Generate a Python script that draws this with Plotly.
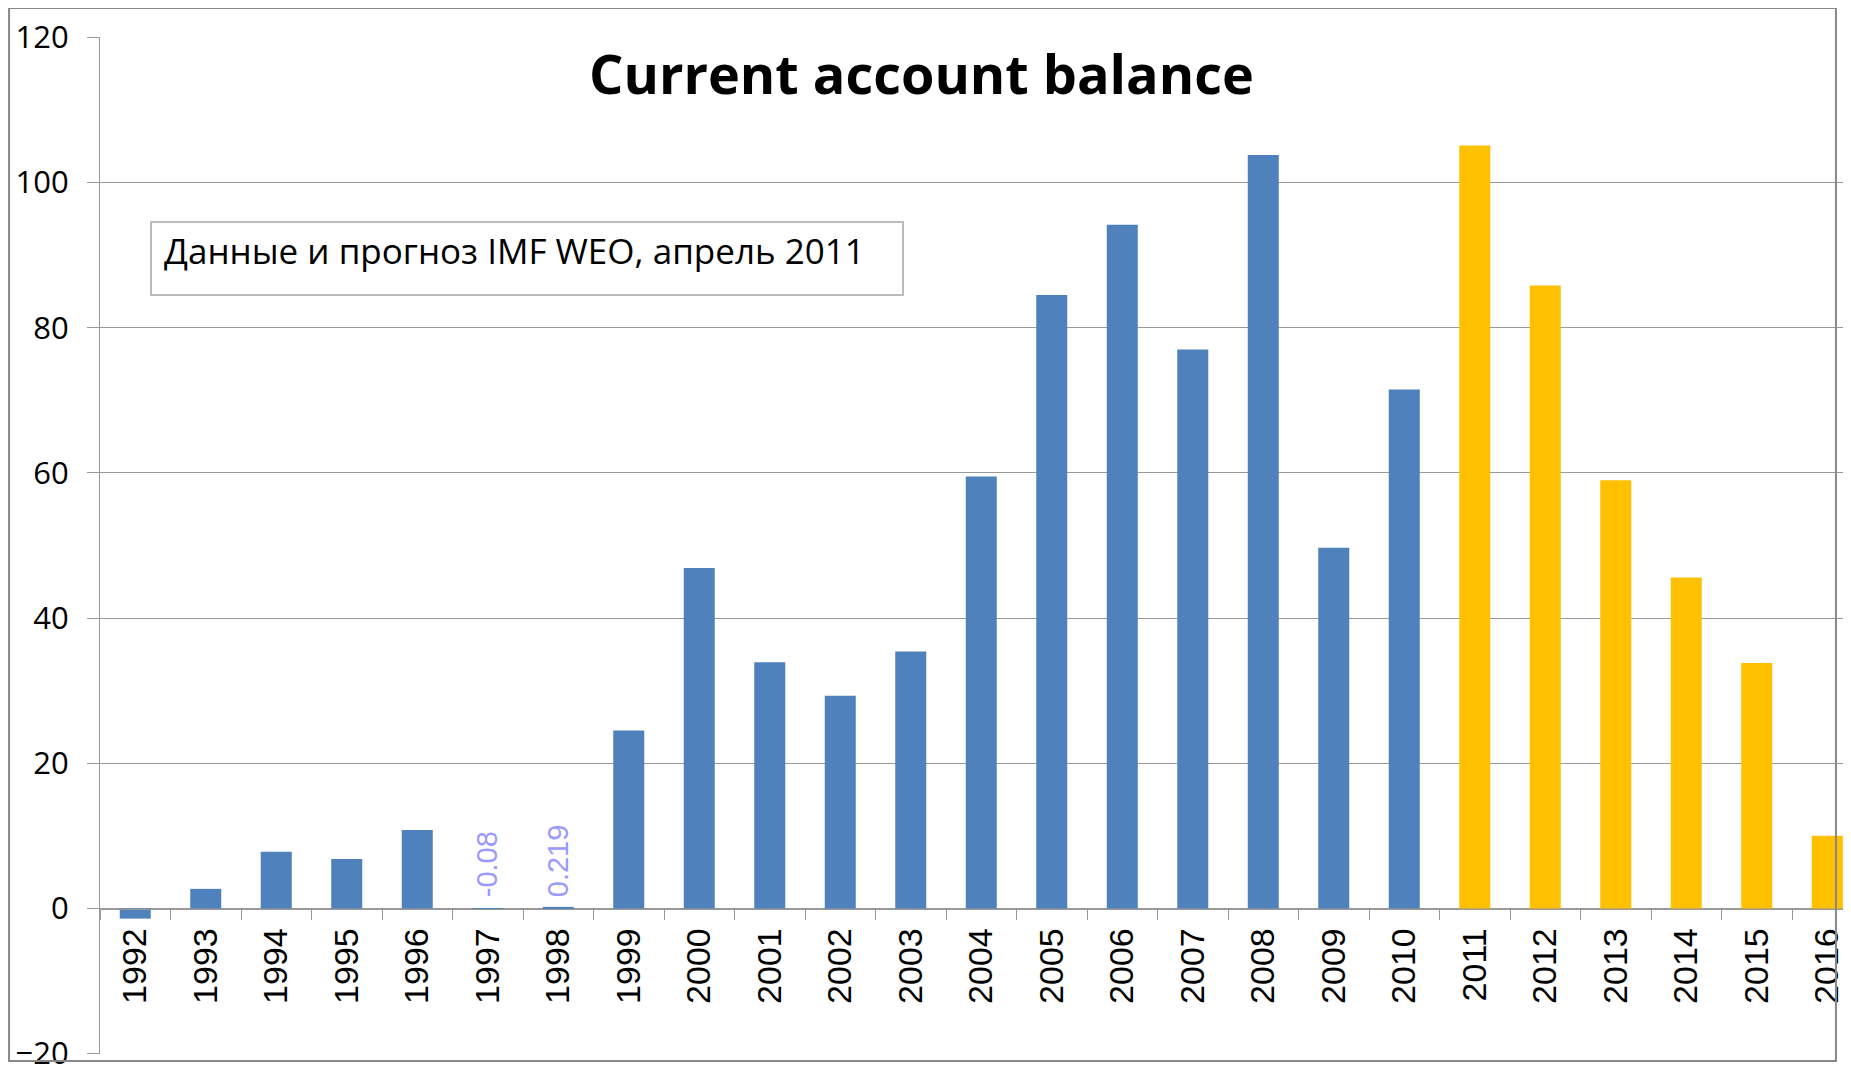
import plotly.graph_objects as go

# data: IMF WEO April 2011, current account balance
years = ["1992", "1993", "1994", "1995", "1996", "1997", "1998", "1999", "2000",
         "2001", "2002", "2003", "2004", "2005", "2006", "2007", "2008", "2009",
         "2010", "2011", "2012", "2013", "2014", "2015", "2016"]
values = [-1.4, 2.7, 7.8, 6.8, 10.8, -0.08, 0.219, 24.5, 46.9,
          33.9, 29.3, 35.4, 59.5, 84.5, 94.2, 77.0, 103.8, 49.7,
          71.5, 105.1, 85.8, 59.0, 45.6, 33.8, 10.0]
first_forecast = "2011"
labelled = {"1997": "-0.08", "1998": "0.219"}

blue = "#4F81BD"
yellow = "#FFC000"
grid = "#999999"

split = years.index(first_forecast)

fig = go.Figure()
fig.add_trace(go.Bar(x=years[:split], y=values[:split], marker_color=blue,
                     marker_line_width=0, width=0.44, showlegend=False))
fig.add_trace(go.Bar(x=years[split:], y=values[split:], marker_color=yellow,
                     marker_line_width=0, width=0.44, showlegend=False))

# rotated data labels above the two tiny bars (category axis -> use index)
for yr, txt in labelled.items():
    fig.add_annotation(x=years.index(yr), y=0, xref="x", yref="y", text=txt,
                       showarrow=False, textangle=-90, yanchor="bottom", yshift=9,
                       font=dict(family="Liberation Sans", size=29, color="#9999FF"))

# title
fig.add_annotation(x=0.4673, y=0.9646, xref="paper", yref="paper",
                   text="<b>Current account balance</b>", showarrow=False,
                   xanchor="center", yanchor="middle",
                   font=dict(family="Open Sans", size=54, color="black"))

# source box
fig.add_shape(type="rect", xref="paper", yref="paper",
              x0=0.0290, x1=0.4565, y0=0.7463, y1=0.8181,
              line=dict(color="#BBBBBB", width=2), fillcolor="white", layer="above")
fig.add_annotation(x=0.0352, y=0.7896, xref="paper", yref="paper",
                   text="Данные и прогноз IMF WEO, апрель 2011", showarrow=False,
                   xanchor="left", yanchor="middle",
                   font=dict(family="Open Sans", size=35, color="black"))

# outer chart border (the right part of the plot spills past it)
fig.add_shape(type="rect", xref="paper", yref="paper",
              x0=-0.0517, x1=0.9869, y0=-0.0069, y1=1.0285,
              line=dict(color="#888888", width=2), layer="above")

fig.update_layout(
    width=1851, height=1069,
    margin=dict(l=92, r=0, t=29, b=23),
    paper_bgcolor="white", plot_bgcolor="white",
    barmode="overlay",
    xaxis=dict(type="category", range=[-0.5, 24.45], anchor="free",
               position=20 / 140, showgrid=False, showline=True,
               linecolor=grid, linewidth=1, ticks="outside", tickson="boundaries",
               ticklen=10, tickcolor=grid, tickangle=-90, ticklabelstandoff=5,
               tickfont=dict(family="Liberation Sans", size=34, color="black")),
    yaxis=dict(range=[-20.05, 120.05], tickvals=[-20, 0, 20, 40, 60, 80, 100, 120],
               showgrid=True, gridcolor=grid,
               gridwidth=1, zeroline=False, showline=True, linecolor=grid,
               linewidth=1, ticks="outside", ticklen=12, tickcolor=grid,
               ticklabelstandoff=12,
               tickfont=dict(family="Open Sans", size=31, color="black")),
)

fig.write_html("out.html")
